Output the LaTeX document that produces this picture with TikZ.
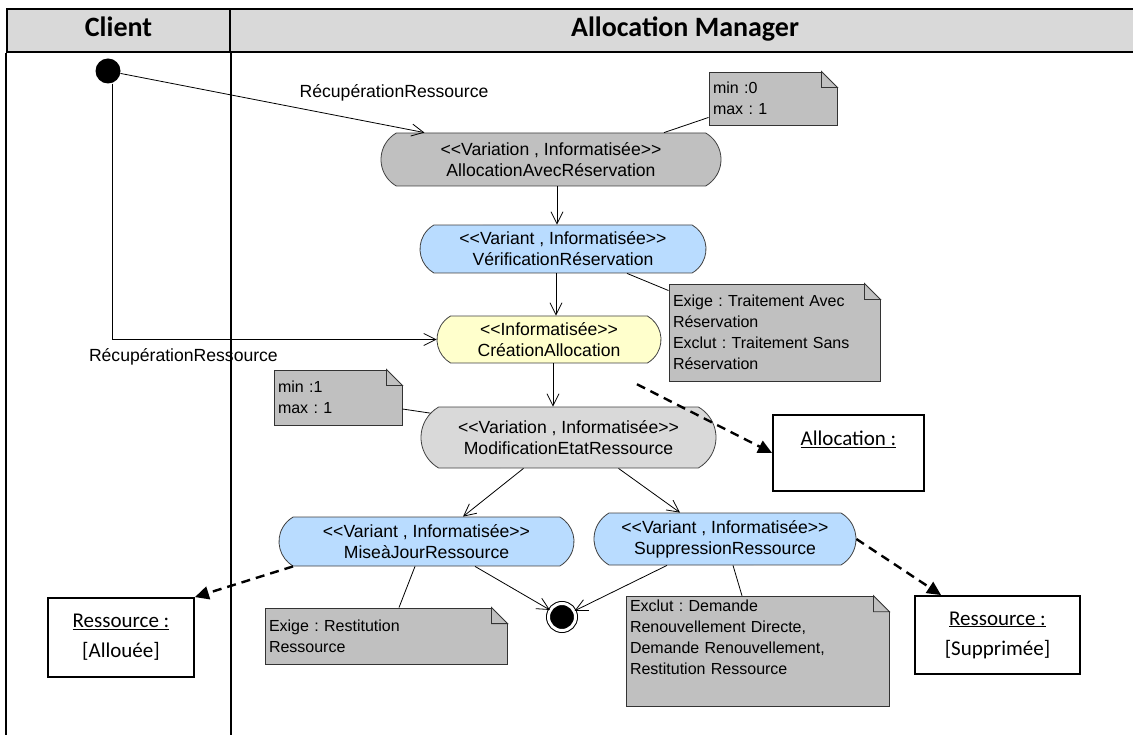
\documentclass[tikz,border=0pt]{standalone}
\usepackage{fontspec}
\setmainfont{Liberation Sans}
\newfontfamily\calfont{Carlito}
\usetikzlibrary{arrows.meta,shapes.misc,shapes.geometric}
\definecolor{laneHead}{RGB}{217,217,217}
\definecolor{varGray}{RGB}{192,192,192}
\definecolor{variantBlue}{RGB}{185,220,255}
\definecolor{infoYellow}{RGB}{255,255,204}
\definecolor{modGray}{RGB}{217,217,217}
\definecolor{noteGray}{RGB}{192,192,192}
\frenchspacing
\newcommand{\stereo}[1]{<\kern0pt<#1>\kern0pt>}
\tikzset{
    every node/.append style={align=center},
    lanehead/.style={rectangle,draw=black,line width=2pt,fill=laneHead,minimum height=43pt,
        text height=19pt,text depth=6pt,font=\calfont\bfseries\fontsize{28}{32}\selectfont},
    lane/.style={line width=1.6pt},
    act/.style={rounded rectangle,rounded rectangle arc length=120,draw=black!75,line width=0.8pt,
        inner sep=1pt,font=\fontsize{17.6}{21}\selectfont},
    note/.style={rectangle,draw=black!80,line width=0.9pt,fill=noteGray,align=left,
        inner xsep=4pt,inner ysep=4pt,font=\fontsize{16}{21}\selectfont},
    objbox/.style={rectangle,draw=black,line width=1.8pt,fill=white,
        font=\calfont\fontsize{21}{30}\selectfont},
    init/.style={circle,fill=black,minimum size=25pt,inner sep=0pt},
    final/.style={circle,fill=black,draw=black,double=white,double distance=3pt,
        line width=1pt,minimum size=27pt,inner sep=0pt},
    flow/.style={-{Straight Barb[length=12pt,width=12pt]},line width=0.8pt},
    objflow/.style={-{Triangle[length=14pt,width=13pt]},line width=2.4pt,dash pattern=on 9pt off 6pt},
    noteline/.style={line width=0.8pt},
    lbl/.style={font=\fontsize{17.6}{21}\selectfont}
}
\begin{document}
\begin{tikzpicture}[x=1pt,y=1pt]
    \useasboundingbox (0,0) rectangle (1133,-735);
    % swimlanes
    \node[lanehead,minimum width=223pt] (hclient) at (118.5,-30.5) {Client};
    \node[lanehead,minimum width=910pt] (hmgr)    at (685,-30.5)   {Allocation Manager};
    \draw[lane] (hclient.south west) -- ++(0,-690);
    \draw[lane] (hclient.south east) -- ++(0,-690);

    % activities
    \node[init] (start) at (108,-71) {};
    \node[act,fill=varGray,minimum width=342pt,minimum height=53pt]     (alloc) at (551,-159.5)
        {\stereo{Variation , Informatisée}\\AllocationAvecRéservation};
    \node[act,fill=variantBlue,minimum width=288pt,minimum height=48pt] (verif) at (563,-249)
        {\stereo{Variant , Informatisée}\\VérificationRéservation};
    \node[act,fill=infoYellow,minimum width=226pt,minimum height=47pt]  (creat) at (549,-339.5)
        {\stereo{Informatisée}\\CréationAllocation};
    \node[act,fill=modGray,minimum width=297pt,minimum height=61pt]     (modif) at (568.5,-437.5)
        {\stereo{Variation , Informatisée}\\ModificationEtatRessource};
    \node[act,fill=variantBlue,minimum width=297pt,minimum height=49pt] (mise)  at (426.5,-541.5)
        {\stereo{Variant , Informatisée}\\MiseàJourRessource};
    \node[act,fill=variantBlue,minimum width=264pt,minimum height=52pt] (supp)  at (725,-539)
        {\stereo{Variant , Informatisée}\\SuppressionRessource};
    \node[final] (stop) at (562,-617) {};

    % notes
    \node[note,text width=120pt,minimum height=53pt] (nmin0)   at (773,-98.5)   {min :0\\max : 1};
    \node[note,text width=203pt,minimum height=97pt] (nexigeA) at (774.5,-332.5)
        {Exige : Traitement Avec\\Réservation\\Exclut : Traitement Sans\\Réservation};
    \node[note,text width=120pt,minimum height=55pt] (nmin1)   at (338,-397.5)  {min :1\\max : 1};
    \node[note,text width=234pt,minimum height=56pt] (nexigeR) at (386,-636)
        {Exige : Restitution\\Ressource};
    \node[note,text width=255pt,text depth=91pt]     (nexclut) at (757.5,-651.5)
        {Exclut : Demande\\Renouvellement Directe,\\Demande Renouvellement,\\Restitution Ressource};
    \foreach \n in {nmin0,nexigeA,nmin1,nexigeR,nexclut} {
        \fill[white] ([shift={(-16.5,1)}]\n.north east) -| ([shift={(1,-16.5)}]\n.north east) -- cycle;
        \filldraw[fill=noteGray,draw=black!80,line width=0.9pt]
            ([xshift=-16]\n.north east) -- ++(0,-16) -- ++(16,0) -- cycle;
    }

    % objects
    \node[objbox,minimum width=151pt,minimum height=76pt] (allocObj)  at (848.5,-453)
        {\underline{Allocation :}\\ \mbox{}};
    \node[objbox,minimum width=146pt,minimum height=79pt] (resAlloue) at (121,-637.5)
        {\underline{Ressource :}\\{[Allouée]}};
    \node[objbox,minimum width=165pt,minimum height=78pt] (resSuppr)  at (997.5,-635)
        {\underline{Ressource :}\\{[Supprimée]}};

    % control flow
    \draw[flow] (start) -- node[lbl,pos=0.9,above=22pt]{RécupérationRessource} (alloc.168);
    \draw[flow] ([xshift=4]start.south) |- node[lbl,pos=0.61,below=5pt]{RécupérationRessource} (creat);
    \draw[flow] ([xshift=6]alloc.south) -- ([xshift=-6]verif.north);
    \draw[flow] ([xshift=-7]verif.south) -- ([xshift=7]creat.north);
    \draw[flow] ([xshift=4]creat.south) -- ([xshift=-15.5]modif.north);
    \draw[flow] ([xshift=-45]modif.south) -- ([xshift=36.5]mise.north);
    \draw[flow] ([xshift=50]modif.south) -- ([xshift=-45]supp.north);
    \draw[flow] ([xshift=48.5]mise.south) -- (stop);
    \draw[flow] ([xshift=-58]supp.south) -- (stop);

    % object flow
    \draw[objflow,shorten <=46pt] (creat) -- (allocObj.west);
    \draw[objflow] (mise.south west) -- (resAlloue.north east);
    \draw[objflow] (supp.east) -- ([xshift=27]resSuppr.north west);

    % note anchors
    \draw[noteline] ([xshift=113]alloc.north) -- ([yshift=8]nmin0.south west);
    \draw[noteline] ([xshift=64]verif.south) -- ([yshift=-7]nexigeA.north west);
    \draw[noteline] ([yshift=-11.5]nmin1.east) -- (modif.170);
    \draw[noteline] ([xshift=-11.5]mise.south) -- ([xshift=13]nexigeR.north);
    \draw[noteline] ([xshift=8]supp.south) -- ([xshift=-15.5]nexclut.north);
\end{tikzpicture}
\end{document}
